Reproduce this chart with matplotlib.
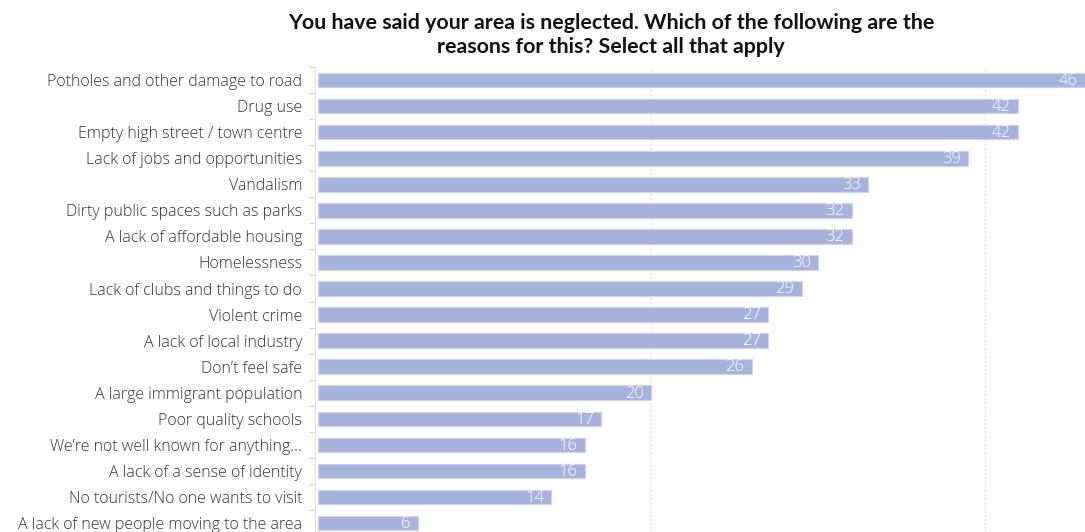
import matplotlib
matplotlib.use("Agg")
import matplotlib.pyplot as plt

categories = [
    "Potholes and other damage to road",
    "Drug use",
    "Empty high street / town centre",
    "Lack of jobs and opportunities",
    "Vandalism",
    "Dirty public spaces such as parks",
    "A lack of affordable housing",
    "Homelessness",
    "Lack of clubs and things to do",
    "Violent crime",
    "A lack of local industry",
    "Don\u2019t feel safe",
    "A large immigrant population",
    "Poor quality schools",
    "We\u2019re not well known for anything\u2026",
    "A lack of a sense of identity",
    "No tourists/No one wants to visit",
    "A lack of new people moving to the area",
]
values = [46, 42, 42, 39, 33, 32, 32, 30, 29, 27, 27, 26, 20, 17, 16, 16, 14, 6]

title = ("You have said your area is neglected. Which of the following are the\n"
         "reasons for this? Select all that apply")

plt.rcParams["font.family"] = ["Lato", "DejaVu Sans"]
label_font = ["Open Sans", "DejaVu Sans"]

W, H = 1085, 532
fig = plt.figure(figsize=(W / 100, H / 100), dpi=100)

# axes placed in pixel terms: left edge at x=318, top at y=67, rows 26 px apart
left_px, right_px = 318, 1085
top_px = 67
row_px = 26.06
n = len(categories)
bottom_px = top_px + row_px * n
ax = fig.add_axes([left_px / W, (H - bottom_px) / H,
                   (right_px - left_px) / W, (bottom_px - top_px) / H])

# spines first: moving a spine resets the ticks of its axis
for s in ["top", "right", "bottom"]:
    ax.spines[s].set_visible(False)
ax.spines["left"].set_color("#e2e2e2")
ax.spines["left"].set_linewidth(0.8)
ax.spines["left"].set_position(("outward", 2))

ypos = list(range(n))
ax.barh(ypos, values, height=0.56, color="#a8b3dd", edgecolor="#cdd3ec",
        linewidth=0.8, zorder=2)

ax.set_xlim(0, 46)
ax.set_ylim(n - 0.5, -0.5)

for y, v in zip(ypos, values):
    ax.text(v - 0.45, y + 0.03, f"{v}", ha="right", va="center", color="white",
            fontsize=12, family=label_font, fontweight="light", zorder=3)

# category labels on major ticks, short separators on minor ticks
ax.set_yticks(ypos)
ax.set_yticks([i + 0.5 for i in range(-1, n)], minor=True)
ax.tick_params(axis="y", which="major", length=0, pad=9.5)
ax.tick_params(axis="y", which="minor", length=4, color="#d8d8d8", width=0.8)
ax.set_yticklabels(categories, family=label_font, fontweight="light",
                   fontsize=11.55, color="#333333")

ax.set_xticks([20, 40])
ax.tick_params(axis="x", length=0, labelbottom=False)
ax.grid(axis="x", color="#e2e2e2", linestyle=(0, (1.5, 1.5)), linewidth=1, zorder=0)

fig.text(611 / W, 1 - 35 / H, title, ha="center", va="center", fontsize=15.4,
         fontweight="bold", color="#111111", linespacing=1.3)

fig.savefig("out.png", dpi=100)
